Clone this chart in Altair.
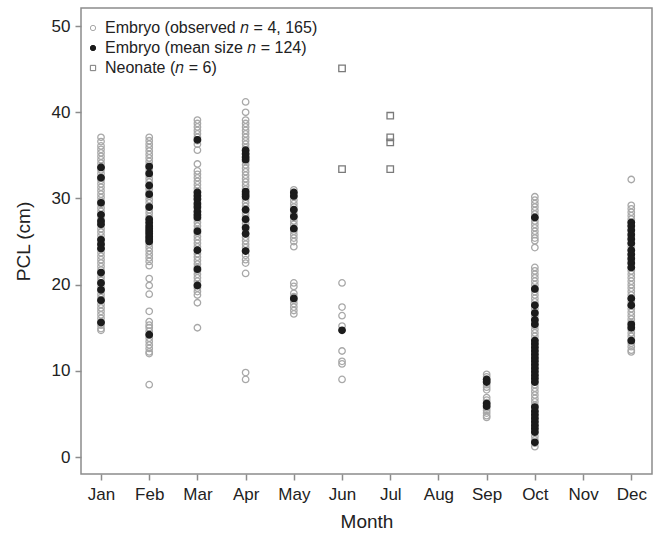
import altair as alt
import pandas as pd

months = ["Jan", "Feb", "Mar", "Apr", "May", "Jun", "Jul", "Aug", "Sep", "Oct", "Nov", "Dec"]

N = "\U0001D45B"
lab_obs = f"Embryo (observed {N} = 4, 165)"
lab_mean = f"Embryo (mean size {N} = 124)"
lab_neo = f"Neonate ({N} = 6)"

# observed embryo sizes (grey open circles), by month number
obs = {
    1: [37.1, 36.6, 36.1, 35.7, 35.3, 34.9, 34.5, 34.1, 33.7, 33.3, 32.9, 32.5, 32.1, 31.7, 31.3,
        30.9, 30.5, 30.1, 29.7, 29.3, 28.9, 28.5, 28.1, 27.7, 27.3, 26.9, 26.5, 26.1, 25.7, 25.3,
        24.9, 24.5, 24.1, 23.7, 23.3, 22.9, 22.5, 22.1, 21.7, 21.3, 20.9, 20.5, 20.1, 19.7, 19.3,
        18.9, 18.5, 18.1, 17.7, 17.3, 16.9, 16.5, 16.1, 15.7, 15.3, 14.9, 14.7],
    2: [37.1, 36.7, 36.3, 35.9, 35.5, 35.1, 34.7, 34.3, 33.9, 33.5, 33.1, 32.7, 32.3, 31.9, 31.5,
        31.1, 30.7, 30.3, 29.9, 29.5, 29.1, 28.7, 28.3, 27.9, 27.5, 27.1, 26.7, 26.3, 25.9, 25.5,
        25.1, 24.7, 24.3, 23.9, 23.5, 23.1, 22.7, 22.2, 20.7, 19.9, 18.9, 16.9, 15.7, 15.3, 15.0,
        14.6, 14.2, 13.8, 13.4, 13.0, 12.6, 12.2, 12.0, 8.4],
    3: [39.1, 38.7, 38.3, 37.9, 37.5, 37.1, 36.7, 36.3, 35.6, 34.0, 33.2, 32.8, 32.4, 32.0, 31.6,
        31.2, 30.8, 30.4, 30.0, 29.6, 29.2, 28.8, 28.4, 28.0, 27.6, 27.2, 26.8, 26.4, 26.0, 25.6,
        25.2, 24.8, 24.4, 24.0, 23.6, 23.2, 22.8, 22.4, 22.0, 21.6, 21.2, 20.8, 20.4, 20.0, 19.6,
        19.2, 18.8, 17.9, 15.0],
    4: [41.2, 40.0, 39.1, 38.7, 38.3, 37.9, 37.5, 37.1, 36.7, 36.3, 35.9, 35.5, 35.1, 34.7, 34.3,
        33.9, 33.5, 33.1, 32.7, 32.3, 31.9, 31.5, 31.1, 30.7, 30.3, 29.9, 29.5, 29.1, 28.7, 28.3,
        27.9, 27.5, 27.1, 26.7, 26.3, 25.9, 25.5, 25.1, 24.7, 24.3, 23.9, 23.4, 22.9, 22.5, 21.3,
        9.8, 9.0],
    5: [31.0, 30.6, 30.2, 29.8, 29.4, 29.0, 28.6, 28.2, 27.8, 27.4, 27.0, 26.6, 26.2, 25.8, 25.4,
        25.0, 24.4, 20.2, 19.8, 19.0, 18.6, 18.2, 17.8, 17.4, 17.0, 16.6],
    6: [20.2, 17.4, 16.4, 15.2, 12.3, 11.1, 10.8, 9.0],
    9: [9.6, 9.3, 9.0, 8.7, 8.4, 8.1, 7.8, 6.9, 6.6, 6.3, 6.0, 5.7, 5.4, 5.1, 4.8, 4.6],
    10: [30.2, 29.8, 29.4, 29.0, 28.6, 28.2, 27.8, 27.4, 27.0, 26.6, 26.2, 25.8, 25.4, 25.1, 24.3,
         22.0, 21.6, 21.2, 20.8, 20.4, 20.0, 19.6, 19.2, 18.8, 18.4, 18.0, 17.6, 17.2, 16.8, 16.4,
         16.0, 15.6, 15.2, 14.8, 14.4, 14.0, 13.6, 13.2, 12.8, 12.4, 12.0, 11.6, 11.2, 10.8, 10.4,
         10.0, 9.6, 9.2, 8.8, 8.4, 8.0, 7.6, 7.2, 6.8, 6.4, 6.0, 5.6, 5.2, 4.8, 4.4, 4.0, 3.6,
         3.2, 2.8, 2.4, 2.0, 1.6, 1.2],
    12: [32.2, 29.2, 28.8, 28.4, 28.0, 27.6, 27.2, 26.8, 26.4, 26.0, 25.6, 25.2, 24.8, 24.4, 24.0,
         23.6, 23.2, 22.8, 22.4, 22.0, 21.6, 21.2, 20.8, 20.4, 20.0, 19.6, 19.2, 18.8, 18.4, 18.0,
         17.6, 17.2, 16.8, 16.4, 16.0, 15.6, 15.2, 14.8, 14.4, 14.0, 13.6, 13.2, 12.8, 12.4, 12.2],
}

# mean embryo sizes per litter (black dots)
means = {
    1: [33.6, 32.4, 29.5, 28.1, 27.4, 27.0, 25.2, 24.7, 24.2, 21.4, 20.2, 19.4, 18.2, 15.6],
    2: [33.7, 32.9, 31.5, 30.5, 29.0, 27.6, 27.2, 26.8, 26.5, 26.2, 25.9, 25.6, 25.3, 25.0, 14.2],
    3: [36.8, 30.7, 30.3, 29.9, 29.4, 29.0, 28.5, 28.1, 27.8, 26.2, 24.0, 21.8, 19.9],
    4: [35.6, 35.2, 34.8, 34.5, 30.8, 30.5, 30.2, 28.7, 27.6, 26.6, 25.9, 23.9],
    5: [30.7, 30.3, 28.7, 27.9, 26.5, 18.4],
    6: [14.7],
    9: [9.0, 8.7, 6.2, 5.9],
    10: [27.8, 19.5, 17.6, 16.7, 15.9, 15.4, 13.5, 13.1, 12.7, 12.3, 11.9, 11.5, 11.1, 10.7, 10.3,
         9.9, 9.5, 9.1, 8.7, 5.8, 5.3, 4.9, 4.5, 4.1, 3.7, 3.3, 2.9, 1.7],
    12: [27.2, 26.8, 26.3, 25.8, 25.3, 24.8, 24.0, 23.5, 23.0, 22.5, 22.0, 18.4, 17.6, 15.4, 15.0, 13.5],
}

neo_month = [6, 6, 7, 7, 7, 7]
neo_pcl = [45.1, 33.4, 39.6, 37.1, 36.5, 33.4]

rows = []
for m, vals in obs.items():
    rows += [{"month": m, "pcl": v, "group": lab_obs} for v in vals]
for m, vals in means.items():
    rows += [{"month": m, "pcl": v, "group": lab_mean} for v in vals]
rows += [{"month": m, "pcl": v, "group": lab_neo} for m, v in zip(neo_month, neo_pcl)]
df = pd.DataFrame(rows)

domain = [lab_obs, lab_mean, lab_neo]
month_expr = "[" + ",".join(f"'{m}'" for m in months) + "][datum.value - 1]"

FONT = "Liberation Sans"
leg = alt.Legend(title=None, orient="none", legendX=4, legendY=12)

chart = alt.Chart(df).mark_point(size=42, strokeWidth=1.3, opacity=1).encode(
    x=alt.X("month:Q", title="Month",
            scale=alt.Scale(domain=[0.585, 12.43], nice=False, zero=False),
            axis=alt.Axis(values=list(range(1, 13)), labelExpr=month_expr, grid=False,
                          domain=False, tickSize=6, labelPadding=6, titlePadding=10)),
    y=alt.Y("pcl:Q", title="PCL (cm)",
            scale=alt.Scale(domain=[-1.97, 52.1], nice=False, zero=False),
            axis=alt.Axis(values=[0, 10, 20, 30, 40, 50], grid=False, domain=False,
                          tickSize=6, labelPadding=5, titlePadding=18)),
    shape=alt.Shape("group:N", scale=alt.Scale(domain=domain, range=["circle", "circle", "square"]),
                    legend=leg),
    color=alt.Color("group:N", scale=alt.Scale(domain=domain, range=["#a8a8a8", "#1c1c1c", "#7a7a7a"]),
                    legend=leg),
    fill=alt.Fill("group:N", scale=alt.Scale(domain=domain, range=["transparent", "#1c1c1c", "transparent"]),
                  legend=leg),
).properties(
    width=571, height=466,
    background="white",
    autosize=alt.AutoSizeParams(type="none"),
    padding={"left": 81, "top": 8, "right": 8, "bottom": 62},
).configure_view(
    stroke="#8c8c8c", strokeWidth=1.5
).configure_axis(
    labelFont=FONT, titleFont=FONT, labelFontSize=17, titleFontSize=19,
    labelColor="#222222", titleColor="#222222", titleFontWeight="normal",
    tickColor="#8c8c8c", tickWidth=1.5,
).configure_legend(
    labelFont=FONT, labelFontSize=16, labelColor="#222222", symbolSize=28,
    symbolStrokeWidth=1, rowPadding=4, labelOffset=4, labelLimit=400,
)

chart.save("out.html", embed_options={"renderer": "svg", "actions": False})
